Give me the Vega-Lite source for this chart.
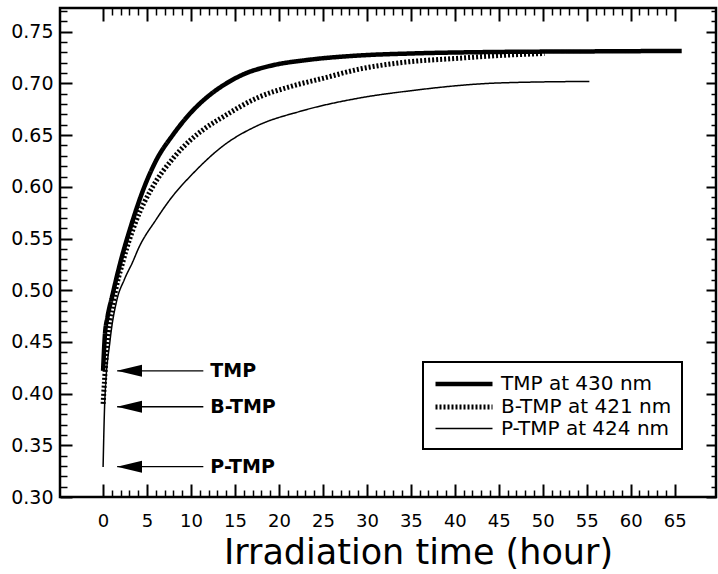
{
  "$schema": "https://vega.github.io/schema/vega-lite/v6.json",
  "width": 656,
  "height": 489,
  "autosize": {"type": "none"},
  "padding": {"left": 60, "top": 8, "right": 2, "bottom": 77},
  "background": "white",
  "config": {
    "view": {"stroke": "black", "strokeWidth": 2.5},
    "font": "DejaVu Sans"
  },
  "datasets": {
    "curves": [
      {"s": "TMP at 430 nm", "t": 0, "v": 0.422},
      {"s": "TMP at 430 nm", "t": 0.2, "v": 0.456},
      {"s": "TMP at 430 nm", "t": 0.5, "v": 0.474},
      {"s": "TMP at 430 nm", "t": 1.0, "v": 0.493},
      {"s": "TMP at 430 nm", "t": 2.0, "v": 0.528},
      {"s": "TMP at 430 nm", "t": 3.2, "v": 0.563},
      {"s": "TMP at 430 nm", "t": 4.6, "v": 0.598},
      {"s": "TMP at 430 nm", "t": 6, "v": 0.625},
      {"s": "TMP at 430 nm", "t": 8, "v": 0.651},
      {"s": "TMP at 430 nm", "t": 10, "v": 0.672},
      {"s": "TMP at 430 nm", "t": 12, "v": 0.688},
      {"s": "TMP at 430 nm", "t": 14, "v": 0.700},
      {"s": "TMP at 430 nm", "t": 16, "v": 0.709},
      {"s": "TMP at 430 nm", "t": 19, "v": 0.717},
      {"s": "TMP at 430 nm", "t": 23.5, "v": 0.723},
      {"s": "TMP at 430 nm", "t": 29, "v": 0.727},
      {"s": "TMP at 430 nm", "t": 35, "v": 0.729},
      {"s": "TMP at 430 nm", "t": 45, "v": 0.7305},
      {"s": "TMP at 430 nm", "t": 55, "v": 0.731},
      {"s": "TMP at 430 nm", "t": 65.8, "v": 0.7315},
      {"s": "B-TMP at 421 nm", "t": 0, "v": 0.390},
      {"s": "B-TMP at 421 nm", "t": 0.4, "v": 0.442},
      {"s": "B-TMP at 421 nm", "t": 1.2, "v": 0.490},
      {"s": "B-TMP at 421 nm", "t": 2.3, "v": 0.529},
      {"s": "B-TMP at 421 nm", "t": 3.8, "v": 0.568},
      {"s": "B-TMP at 421 nm", "t": 5.5, "v": 0.598},
      {"s": "B-TMP at 421 nm", "t": 8, "v": 0.628},
      {"s": "B-TMP at 421 nm", "t": 9.9, "v": 0.645},
      {"s": "B-TMP at 421 nm", "t": 11.5, "v": 0.656},
      {"s": "B-TMP at 421 nm", "t": 13.7, "v": 0.668},
      {"s": "B-TMP at 421 nm", "t": 17.5, "v": 0.686},
      {"s": "B-TMP at 421 nm", "t": 21.3, "v": 0.697},
      {"s": "B-TMP at 421 nm", "t": 25, "v": 0.705},
      {"s": "B-TMP at 421 nm", "t": 29.2, "v": 0.714},
      {"s": "B-TMP at 421 nm", "t": 33.75, "v": 0.720},
      {"s": "B-TMP at 421 nm", "t": 40.6, "v": 0.7245},
      {"s": "B-TMP at 421 nm", "t": 45, "v": 0.727},
      {"s": "B-TMP at 421 nm", "t": 50.2, "v": 0.729},
      {"s": "P-TMP at 424 nm", "t": 0, "v": 0.329},
      {"s": "P-TMP at 424 nm", "t": 0.2, "v": 0.394},
      {"s": "P-TMP at 424 nm", "t": 0.8, "v": 0.452},
      {"s": "P-TMP at 424 nm", "t": 1.55, "v": 0.490},
      {"s": "P-TMP at 424 nm", "t": 2.4, "v": 0.510},
      {"s": "P-TMP at 424 nm", "t": 3.4, "v": 0.528},
      {"s": "P-TMP at 424 nm", "t": 4.0, "v": 0.540},
      {"s": "P-TMP at 424 nm", "t": 6, "v": 0.568},
      {"s": "P-TMP at 424 nm", "t": 8, "v": 0.592},
      {"s": "P-TMP at 424 nm", "t": 10, "v": 0.611},
      {"s": "P-TMP at 424 nm", "t": 13.7, "v": 0.640},
      {"s": "P-TMP at 424 nm", "t": 17.5, "v": 0.659},
      {"s": "P-TMP at 424 nm", "t": 22.4, "v": 0.673},
      {"s": "P-TMP at 424 nm", "t": 29.2, "v": 0.686},
      {"s": "P-TMP at 424 nm", "t": 35, "v": 0.693},
      {"s": "P-TMP at 424 nm", "t": 45, "v": 0.7005},
      {"s": "P-TMP at 424 nm", "t": 55.3, "v": 0.702}
    ],
    "arrows": [
      {"label": "TMP", "y": 0.422},
      {"label": "B-TMP", "y": 0.3873},
      {"label": "P-TMP", "y": 0.3293}
    ]
  },
  "resolve": {"axis": {"x": "independent", "y": "independent"}},
  "layer": [
    {
      "data": {"name": "curves"},
      "mark": {"type": "line", "color": "black", "interpolate": "monotone"},
      "encoding": {
        "x": {
          "field": "t", "type": "quantitative",
          "scale": {"domain": [-4.9, 69.7], "nice": false, "zero": false},
          "axis": {
            "orient": "bottom",
            "values": [0,5,10,15,20,25,30,35,40,45,50,55,60,65],
            "domain": false, "gridOpacity": 0,
            "tickColor": "black", "tickWidth": 2, "tickSize": 13, "offset": -13,
            "labelOverlap": false,
            "labelFont": "DejaVu Sans", "labelFontSize": 18, "labelColor": "black",
            "labelPadding": 15,
            "title": "Irradiation time (hour)",
            "titleFont": "DejaVu Sans", "titleFontSize": 35, "titleFontWeight": "normal", "titleColor": "black",
            "titleX": 358, "titleY": 79, "titleBaseline": "alphabetic", "titleAlign": "center"
          }
        },
        "y": {
          "field": "v", "type": "quantitative",
          "scale": {"domain": [0.30, 0.773], "nice": false, "zero": false},
          "axis": {
            "orient": "left",
            "values": [0.30,0.35,0.40,0.45,0.50,0.55,0.60,0.65,0.70,0.75],
            "domain": false, "gridOpacity": 0,
            "tickColor": "black", "tickWidth": 2, "tickSize": 12, "offset": -12,
            "format": ".2f",
            "labelOverlap": false,
            "labelFont": "DejaVu Sans", "labelFontSize": 19, "labelColor": "black",
            "labelPadding": 7,
            "title": null
          }
        },
        "strokeWidth": {
          "field": "s", "type": "ordinal",
          "scale": {"type": "ordinal", "domain": ["TMP at 430 nm", "B-TMP at 421 nm", "P-TMP at 424 nm"], "range": [4.5, 5, 1.5]},
          "legend": {
            "orient": "none", "legendX": 363, "legendY": 354, "title": null,
            "padding": 10, "strokeColor": "black", "fillColor": "white",
            "symbolType": "M-3,0H3", "symbolSize": 361, "symbolOffset": 19, "symbolStrokeColor": "black",
            "labelFont": "DejaVu Sans", "labelFontSize": 20, "labelColor": "black", "labelOffset": 25, "labelLimit": 400,
            "rowPadding": 1,
            "encode": {"legend": {"update": {"strokeWidth": {"value": 2}}}}
          }
        },
        "strokeDash": {
          "field": "s", "type": "nominal",
          "scale": {"domain": ["TMP at 430 nm", "B-TMP at 421 nm", "P-TMP at 424 nm"], "range": [[1, 0], [2, 2], [1, 0]]},
          "legend": {
            "orient": "none", "legendX": 363, "legendY": 354, "title": null,
            "padding": 10, "strokeColor": "black", "fillColor": "white",
            "symbolType": "M-3,0H3", "symbolSize": 361, "symbolOffset": 19, "symbolStrokeColor": "black",
            "labelFont": "DejaVu Sans", "labelFontSize": 20, "labelColor": "black", "labelOffset": 25, "labelLimit": 400,
            "rowPadding": 1,
            "encode": {"legend": {"update": {"strokeWidth": {"value": 2}}}}
          }
        }
      }
    },
    {
      "data": {"name": "arrows"},
      "mark": {"type": "rule", "color": "black", "strokeWidth": 1.3},
      "encoding": {
        "x": {
          "datum": 1.6, "type": "quantitative",
          "axis": {
            "orient": "top",
            "values": [0,5,10,15,20,25,30,35,40,45,50,55,60,65],
            "domain": false, "gridOpacity": 0, "labels": false, "title": null,
            "tickColor": "black", "tickWidth": 2, "tickSize": 13, "offset": -13
          }
        },
        "x2": {"datum": 11.4},
        "y": {
          "field": "y", "type": "quantitative",
          "axis": {
            "orient": "right",
            "values": [0.30,0.35,0.40,0.45,0.50,0.55,0.60,0.65,0.70,0.75],
            "domain": false, "gridOpacity": 0, "labels": false, "title": null,
            "tickColor": "black", "tickWidth": 2, "tickSize": 10, "offset": -10
          }
        }
      }
    },
    {
      "data": {"name": "arrows"},
      "mark": {"type": "point", "shape": "M-1,0L1,-0.48L1,0.48Z", "filled": true, "color": "black", "opacity": 1, "size": 625},
      "encoding": {
        "x": {
          "datum": 3.0, "type": "quantitative",
          "axis": {
            "orient": "bottom",
            "values": [1,2,3,4,6,7,8,9,11,12,13,14,16,17,18,19,21,22,23,24,26,27,28,29,31,32,33,34,36,37,38,39,41,42,43,44,46,47,48,49,51,52,53,54,56,57,58,59,61,62,63,64],
            "domain": false, "gridOpacity": 0, "labels": false, "title": null,
            "tickColor": "black", "tickWidth": 1.5, "tickSize": 7, "offset": -7
          }
        },
        "y": {
          "field": "y", "type": "quantitative",
          "axis": {
            "orient": "left",
            "values": [0.31,0.32,0.33,0.34,0.36,0.37,0.38,0.39,0.41,0.42,0.43,0.44,0.46,0.47,0.48,0.49,0.51,0.52,0.53,0.54,0.56,0.57,0.58,0.59,0.61,0.62,0.63,0.64,0.66,0.67,0.68,0.69,0.71,0.72,0.73,0.74,0.76,0.77],
            "domain": false, "gridOpacity": 0, "labels": false, "title": null,
            "tickColor": "black", "tickWidth": 1.5, "tickSize": 7, "offset": -7
          }
        }
      }
    },
    {
      "data": {"name": "arrows"},
      "mark": {"type": "text", "align": "left", "baseline": "middle", "font": "DejaVu Sans", "fontSize": 19, "fontWeight": "bold", "color": "black"},
      "encoding": {
        "x": {
          "datum": 12.2, "type": "quantitative",
          "axis": {
            "orient": "top",
            "values": [1,2,3,4,6,7,8,9,11,12,13,14,16,17,18,19,21,22,23,24,26,27,28,29,31,32,33,34,36,37,38,39,41,42,43,44,46,47,48,49,51,52,53,54,56,57,58,59,61,62,63,64],
            "domain": false, "gridOpacity": 0, "labels": false, "title": null,
            "tickColor": "black", "tickWidth": 1.5, "tickSize": 7, "offset": -7
          }
        },
        "y": {
          "field": "y", "type": "quantitative",
          "axis": {
            "orient": "right",
            "values": [0.31,0.32,0.33,0.34,0.36,0.37,0.38,0.39,0.41,0.42,0.43,0.44,0.46,0.47,0.48,0.49,0.51,0.52,0.53,0.54,0.56,0.57,0.58,0.59,0.61,0.62,0.63,0.64,0.66,0.67,0.68,0.69,0.71,0.72,0.73,0.74,0.76,0.77],
            "domain": false, "gridOpacity": 0, "labels": false, "title": null,
            "tickColor": "black", "tickWidth": 1.5, "tickSize": 5, "offset": -5
          }
        },
        "text": {"field": "label"}
      }
    }
  ]
}
